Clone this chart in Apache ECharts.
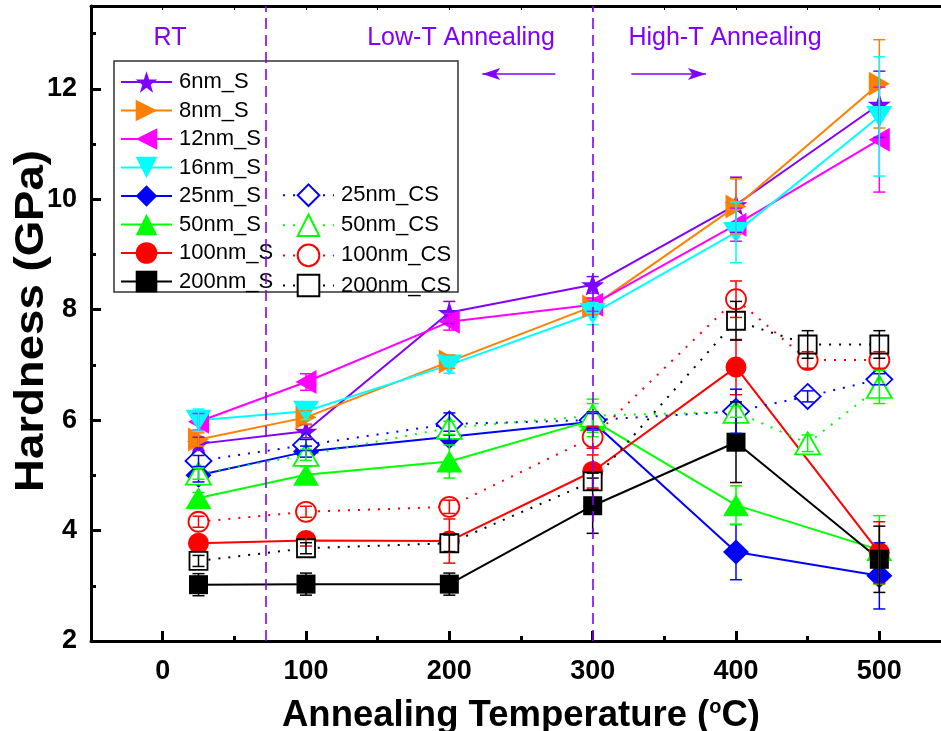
<!DOCTYPE html>
<html>
<head>
<meta charset="utf-8">
<script src="https://cdn.jsdelivr.net/npm/echarts@6/dist/echarts.min.js"></script>
<style>
  html, body { margin: 0; padding: 0; background: #fff; }
  #chart { width: 941px; height: 731px; }
</style>
</head>
<body>
<div id="chart"></div>
<script>
// Annealing temperatures (°C); the first point is room temperature
const tempS  = [25, 100, 200, 300, 400, 500];
const tempCS = [25, 100, 200, 300, 400, 450, 500];

// Hardness (GPa) and error bars, single-layer samples
const h6S   = [5.57, 5.80, 7.95, 8.45, 9.90, 11.72];
const e6S   = [0.12, 0.12, 0.20, 0.15, 0.50, 0.60];
const h8S   = [5.65, 6.05, 7.06, 8.06, 9.87, 12.09];
const e8S   = [0.12, 0.12, 0.12, 0.15, 0.50, 0.80];
const h12S  = [5.97, 6.69, 7.78, 8.09, 9.54, 11.08];
const e12S  = [0.15, 0.15, 0.15, 0.12, 0.30, 0.95];
const h16S  = [6.00, 6.16, 7.00, 7.93, 9.40, 11.50];
const e16S  = [0.20, 0.15, 0.15, 0.20, 0.55, 1.08];
const h25S  = [5.00, 5.43, 5.70, 5.97, 3.61, 3.18];
const e25S  = [0.12, 0.10, 0.10, 0.15, 0.50, 0.60];
const h50S  = [4.59, 5.01, 5.25, 6.00, 4.46, 3.65];
const e50S  = [0.10, 0.15, 0.30, 0.30, 0.35, 0.62];
const h100S = [3.77, 3.82, 3.81, 5.07, 6.96, 3.60];
const e100S = [0.10, 0.10, 0.40, 0.30, 0.50, 0.56];
const h200S = [3.02, 3.03, 3.03, 4.45, 5.60, 3.48];
const e200S = [0.20, 0.20, 0.20, 0.50, 0.73, 0.60];

// Hardness (GPa) and error bars, CS samples
const h25CS  = [5.26, 5.55, 5.93, 6.00, 6.16, 6.43, 6.74];
const e25CS  = [0.10, 0.10, 0.20, 0.15, 0.40, 0.10, 0.10];
const h50CS  = [5.03, 5.37, 5.86, 6.08, 6.15, 5.58, 6.60];
const e50CS  = [0.10, 0.10, 0.12, 0.30, 0.10, 0.15, 0.30];
const h100CS = [4.16, 4.34, 4.43, 5.69, 8.19, 7.09, 7.09];
const e100CS = [0.10, 0.10, 0.12, 0.20, 0.33, 0.15, 0.15];
const h200CS = [3.45, 3.68, 3.77, 4.89, 7.80, 7.37, 7.37];
const e200CS = [0.10, 0.10, 0.15, 0.15, 0.35, 0.25, 0.25];

// Axis tick values
const xMajorTicks = [0, 100, 200, 300, 400, 500];
const xMinorTicks = [50, 150, 250, 350, 450];
const xAllTicks   = [0, 50, 100, 150, 200, 250, 300, 350, 400, 450, 500];

// Region boundaries (°C) and region labels
const regionBounds = [72, 300];
const regionLabels = ['RT', 'Low-T Annealing', 'High-T Annealing'];
const yTitle = 'Hardness (GPa)';

const FONT = "'Liberation Sans', Arial, sans-serif";
const PURPLE = '#8000FF';
const STAR = 'path://M50,0 L61.8,35.1 L98.1,35.1 L68.8,56.7 L79.4,90.9 L50,69.4 L20.6,90.9 L31.2,56.7 L1.9,35.1 L38.2,35.1 Z';

const seriesDefs = [
  { name: '6nm_S',    x: tempS,  y: h6S,    e: e6S,    color: '#8000FF', symbol: STAR,       size: [23, 22], rotate: 0,   open: false },
  { name: '8nm_S',    x: tempS,  y: h8S,    e: e8S,    color: '#FF8000', symbol: 'triangle', size: [24, 21], rotate: -90, open: false },
  { name: '12nm_S',   x: tempS,  y: h12S,   e: e12S,   color: '#FF00FF', symbol: 'triangle', size: [24, 21], rotate: 90,  open: false },
  { name: '16nm_S',   x: tempS,  y: h16S,   e: e16S,   color: '#00FFFF', symbol: 'triangle', size: [26, 21], rotate: 180, open: false },
  { name: '25nm_S',   x: tempS,  y: h25S,   e: e25S,   color: '#0000FF', symbol: 'diamond',  size: [26, 25], rotate: 0,   open: false },
  { name: '50nm_S',   x: tempS,  y: h50S,   e: e50S,   color: '#00FF00', symbol: 'triangle', size: [26, 22], rotate: 0,   open: false },
  { name: '100nm_S',  x: tempS,  y: h100S,  e: e100S,  color: '#FF0000', symbol: 'circle',   size: 21,       rotate: 0,   open: false },
  { name: '200nm_S',  x: tempS,  y: h200S,  e: e200S,  color: '#000000', symbol: 'rect',     size: 19,       rotate: 0,   open: false },
  { name: '25nm_CS',  x: tempCS, y: h25CS,  e: e25CS,  color: '#0000FF', symbol: 'diamond',  size: [26, 25], rotate: 0,   open: true },
  { name: '50nm_CS',  x: tempCS, y: h50CS,  e: e50CS,  color: '#00FF00', symbol: 'triangle', size: [25, 22], rotate: 0,   open: true },
  { name: '100nm_CS', x: tempCS, y: h100CS, e: e100CS, color: '#FF0000', symbol: 'circle',   size: 20,       rotate: 0,   open: true },
  { name: '200nm_CS', x: tempCS, y: h200CS, e: e200CS, color: '#000000', symbol: 'rect',     size: 18,       rotate: 0,   open: true }
];

const lineSeries = seriesDefs.map(d => ({
  type: 'line',
  name: d.name,
  data: d.x.map((t, i) => [t, d.y[i]]),
  symbol: d.symbol,
  symbolSize: d.size,
  symbolRotate: d.rotate,
  showAllSymbol: true,
  z: 2,
  lineStyle: d.open
    ? { color: d.color, width: 2, type: [2, 8], cap: 'butt' }
    : { color: d.color, width: 2 },
  itemStyle: d.open
    ? { color: '#FFFFFF', borderColor: d.color, borderWidth: 1.8 }
    : { color: d.color, borderWidth: 0 },
  emphasis: { disabled: true }
}));

// Vertical error bars with caps
const errorSeries = seriesDefs.map(d => ({
  type: 'custom',
  name: d.name + ' error',
  data: d.x.map((t, i) => [t, d.y[i] - d.e[i], d.y[i] + d.e[i]]),
  encode: { x: 0, y: [1, 2] },
  z: 3,
  silent: true,
  renderItem: function (params, api) {
    const lo = api.coord([api.value(0), api.value(1)]);
    const hi = api.coord([api.value(0), api.value(2)]);
    const w = 6;
    const st = { stroke: d.color, lineWidth: 1.5 };
    return {
      type: 'group',
      children: [
        { type: 'line', shape: { x1: lo[0], y1: lo[1], x2: hi[0], y2: hi[1] }, style: st },
        { type: 'line', shape: { x1: lo[0] - w, y1: lo[1], x2: lo[0] + w, y2: lo[1] }, style: st },
        { type: 'line', shape: { x1: hi[0] - w, y1: hi[1], x2: hi[0] + w, y2: hi[1] }, style: st }
      ]
    };
  }
}));

// Region dividers and direction arrows
lineSeries[0].markLine = {
  silent: true,
  animation: false,
  symbol: 'none',
  label: { show: false },
  lineStyle: { color: PURPLE, type: [11, 6], width: 1.6 },
  data: [
    { xAxis: regionBounds[0] },
    { xAxis: regionBounds[1] },
    [
      { coord: [274, 12.27], symbol: 'none', lineStyle: { type: 'solid', width: 1.6, color: PURPLE } },
      { coord: [223, 12.27], symbol: 'arrow', symbolSize: [9, 18] }
    ],
    [
      { coord: [327, 12.27], symbol: 'none', lineStyle: { type: 'solid', width: 1.6, color: PURPLE } },
      { coord: [379, 12.27], symbol: 'arrow', symbolSize: [9, 18] }
    ]
  ]
};

const legendCommon = {
  orient: 'vertical',
  padding: 0,
  itemWidth: 51,
  itemHeight: 27,
  itemGap: 6.5,
  selectedMode: false,
  textStyle: { fontFamily: FONT, fontSize: 22, color: '#000', padding: [0, 0, 0, 2] }
};

const chart = echarts.init(document.getElementById('chart'), null, { renderer: 'canvas' });

chart.setOption({
  animation: false,
  backgroundColor: '#fff',
  grid: { left: 91, top: 6, right: -10, bottom: 90, containLabel: false, outerBoundsMode: 'none' },
  legend: [
    Object.assign({ data: seriesDefs.slice(0, 8).map(d => d.name), left: 120, top: 71 }, legendCommon),
    Object.assign({ data: seriesDefs.slice(8).map(d => d.name), left: 282, top: 71 + 4 * 28.1 }, legendCommon)
  ],
  graphic: [
    { type: 'rect', z: -1, shape: { x: 114, y: 61, width: 344, height: 231 },
      style: { fill: '#fff', stroke: '#333', lineWidth: 1.5 } },
    { type: 'text', x: 170, y: 38, style: { text: regionLabels[0], fill: PURPLE, font: '25px ' + FONT, align: 'center', verticalAlign: 'middle' } },
    { type: 'text', x: 461, y: 38, style: { text: regionLabels[1], fill: PURPLE, font: '25px ' + FONT, align: 'center', verticalAlign: 'middle' } },
    { type: 'text', x: 725, y: 38, style: { text: regionLabels[2], fill: PURPLE, font: '25px ' + FONT, align: 'center', verticalAlign: 'middle' } },
    // y-axis title, rotated and slightly elongated along its reading direction
    { type: 'text', x: 32, y: 321, rotation: Math.PI / 2, scaleX: 1.14, scaleY: 1,
      style: { text: yTitle, fill: '#000', font: 'bold 40px ' + FONT, align: 'center', verticalAlign: 'middle' } }
  ],
  xAxis: [
    {
      type: 'value', min: -50, max: 550, position: 'bottom',
      name: '{t|Annealing Temperature (}{s|o}{t|C)}',
      nameLocation: 'middle', nameGap: 56,
      nameTextStyle: {
        rich: {
          t: { fontFamily: FONT, fontSize: 36.5, fontWeight: 'bold', color: '#000' },
          s: { fontFamily: FONT, fontSize: 20, fontWeight: 'bold', color: '#000', padding: [0, 0, 18, 0] }
        }
      },
      splitLine: { show: false },
      axisLine: { onZero: false, lineStyle: { color: '#000', width: 3 } },
      axisTick: { inside: true, length: 10, customValues: xMajorTicks, lineStyle: { color: '#000', width: 3 } },
      axisLabel: { customValues: xMajorTicks, margin: 17, fontFamily: FONT, fontSize: 27, fontWeight: 'bold', color: '#000' }
    },
    {
      type: 'value', min: -50, max: 550, position: 'bottom',
      splitLine: { show: false },
      axisLine: { show: false },
      axisTick: { inside: true, length: 5, customValues: xMinorTicks, lineStyle: { color: '#000', width: 3 } },
      axisLabel: { show: false }
    },
    {
      type: 'value', min: -50, max: 550, position: 'top',
      splitLine: { show: false },
      axisLine: { onZero: false, lineStyle: { color: '#000', width: 3 } },
      axisTick: { inside: true, length: 4, customValues: xAllTicks, lineStyle: { color: '#000', width: 1 } },
      axisLabel: { show: false }
    }
  ],
  yAxis: {
    type: 'value', min: 2, max: 13.5, interval: 2,
    splitLine: { show: false },
    axisLine: { onZero: false, lineStyle: { color: '#000', width: 3 } },
    axisTick: { inside: true, length: 10, lineStyle: { color: '#000', width: 3 } },
    minorTick: { show: true, splitNumber: 2, length: 5, lineStyle: { color: '#000', width: 3 } },
    axisLabel: { margin: 14, showMaxLabel: false, fontFamily: FONT, fontSize: 27, fontWeight: 'bold', color: '#000' }
  },
  series: lineSeries.concat(errorSeries)
});
</script>
</body>
</html>
